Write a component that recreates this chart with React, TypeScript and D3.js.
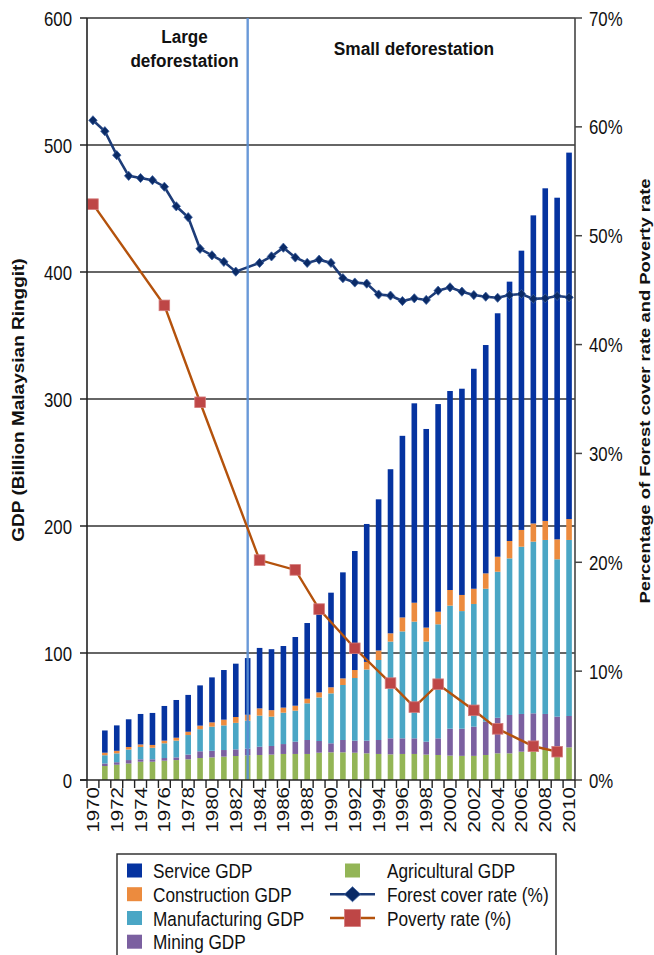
import React from 'react';
import * as d3 from 'd3';

const years = [1970,1971,1972,1973,1974,1975,1976,1977,1978,1979,1980,1981,1982,1983,1984,1985,1986,1987,1988,1989,1990,1991,1992,1993,1994,1995,1996,1997,1998,1999,2000,2001,2002,2003,2004,2005,2006,2007,2008,2009,2010];
const labelYears = [1970,1972,1974,1976,1978,1980,1982,1984,1986,1988,1990,1992,1994,1996,1998,2000,2002,2004,2006,2008,2010];

// GDP components (billion RM), 1970 has no bar
const agricultural = [null,11,12,13,14.4,14.4,15.2,15.7,16.3,17.3,17.8,18.4,18.9,19.4,19.7,20,20.5,20.5,20.5,21.5,21.8,21.8,21.5,21,20.5,20.2,20.5,20.5,20,19.7,19.2,19,19,19.7,21,21,22.3,23.6,23.6,23.6,25.7];
const mining = [null,2,2,2.7,1.9,1.9,2.1,2.1,3.7,5.3,5.2,5.2,5.2,5.3,6.5,6.8,7.8,9.7,11,9.2,7.1,9.7,9.5,10,11,12.6,12.3,12.3,10.2,13.1,21.2,21.4,23,26.3,28,30.2,29.7,28.9,28.4,26.3,24.7];
const manufacturing = [null,6.5,7,8.3,9.7,9.1,11.6,13.2,15.4,17.4,19,19.4,20.9,22,24.5,23.1,24.7,24.4,28.9,34.3,39.3,43.3,49.3,56,63,76.2,84.2,91.9,78.8,89.8,96.9,92.6,96.6,104.6,115,123.3,131.7,135.2,137,123.9,138.6];
const construction = [null,2,2,2,2,2.2,2.1,2.3,2.6,2.8,3.4,4.5,4.6,4.7,5.7,5.1,4,3.9,3.6,4,4.8,5.2,6.3,6,7.5,6.5,11,14.9,11,9.9,12.3,12.7,12,12.1,11.8,13.7,13.2,14.3,15,15.7,16.5];
const service = [null,17.5,20,21.8,24,25.2,27.3,29.7,29,31.7,35.4,39.1,42,44.6,47.6,48,48.5,54.1,59.6,62,74.5,83.5,93.7,108.6,119,129.2,143,157,156.4,163.5,156.7,162.4,173.2,179.8,191.7,204.2,219.9,242.6,261.9,269,288.5];

// Forest cover rate (%) 1970-2010 (1983 marker not shown)
const forestCover = [60.6,59.6,57.4,55.5,55.3,55.1,54.5,52.7,51.7,48.8,48.2,47.6,46.7,null,47.5,48.1,48.9,48.0,47.5,47.8,47.5,46.1,45.7,45.6,44.6,44.5,44.0,44.25,44.1,44.95,45.26,44.86,44.55,44.4,44.3,44.55,44.65,44.2,44.25,44.46,44.34];

// Poverty rate (%)
const povertyYears = [1970,1976,1979,1984,1987,1989,1992,1995,1997,1999,2002,2004,2007,2009];
const povertyRate = [52.9,43.6,34.7,20.2,19.3,15.7,12.1,8.9,6.7,8.8,6.4,4.7,3.1,2.6];

const leftTicks = [0,100,200,300,400,500,600];
const rightTicks = [0,10,20,30,40,50,60,70];

const seriesKeys = ['agri','mining','manuf','constr','service'];
const seriesColors: Record<string,string> = {
  agri: '#93B556', mining: '#7B60A0', manuf: '#4AA6C5', constr: '#EC8B3E', service: '#0533A0',
};

const FONT = '"Liberation Sans", Arial, sans-serif';

function HText(p: {x:number;y:number;size?:number;sx?:number;anchor?:string;weight?:string;children:any}) {
  const { x, y, size = 20, sx = 0.84, anchor = 'start', weight = 'normal', children } = p;
  return (
    <text transform={`translate(${x},${y}) scale(${sx},1)`} fontSize={size} textAnchor={anchor as any}
      fontWeight={weight} fontFamily={FONT} fill="#111">{children}</text>
  );
}
function VText(p: {x:number;y:number;size?:number;sy?:number;anchor?:string;weight?:string;children:any}) {
  const { x, y, size = 20, sy = 0.82, anchor = 'middle', weight = 'normal', children } = p;
  return (
    <text transform={`translate(${x},${y}) rotate(-90) scale(1,${sy})`} fontSize={size} textAnchor={anchor as any}
      fontWeight={weight} fontFamily={FONT} fill="#111">{children}</text>
  );
}

export default function App() {
  const L = 87, R = 575, T = 18, B = 780;
  const x = d3.scaleBand<number>().domain(years).range([L, R]).padding(0);
  const step = x.step();
  const cx = (yr: number) => (x(yr) as number) + step / 2;
  const yL = d3.scaleLinear().domain([0, 600]).range([B, T]);
  const yR = d3.scaleLinear().domain([0, 70]).range([B, T]);
  const barW = 5.6;

  const rows = years.map((yr, i) => ({
    year: yr,
    agri: agricultural[i] ?? 0,
    mining: mining[i] ?? 0,
    manuf: manufacturing[i] ?? 0,
    constr: construction[i] ?? 0,
    service: service[i] ?? 0,
  })).filter((r, i) => agricultural[i] != null);
  const stacked = d3.stack<any>().keys(seriesKeys)(rows);

  const forestPts = years.map((yr, i) => ({ yr, v: forestCover[i] })).filter(d => d.v != null) as {yr:number;v:number}[];
  const povPts = povertyYears.map((yr, i) => ({ yr, v: povertyRate[i] }));
  const lineGen = d3.line<{yr:number;v:number}>().x(d => cx(d.yr)).y(d => yR(d.v));

  const diamond = (s: number, h: number) => `M0,${-h} L${s},0 L0,${h} L${-s},0 Z`;
  const boundaries = years.map(yr => x(yr) as number).concat([R]);
  const divX = cx(1983);

  const legendRowY = [870.5, 894.2, 918, 941.7];

  return (
    <svg width={654} height={955} style={{ position: 'absolute', left: 0, top: 0, background: '#fff' }}>
      <rect x={0} y={0} width={654} height={955} fill="#fff" />
      {/* gridlines */}
      {leftTicks.filter(t => t > 0).map(t => (
        <line key={t} x1={L} x2={R} y1={yL(t)} y2={yL(t)} stroke="#333" strokeWidth={1.5} />
      ))}
      {/* bars */}
      {stacked.map(s => (
        <g key={s.key} fill={seriesColors[s.key]}>
          {s.map((d: any) => (
            <rect key={d.data.year} x={cx(d.data.year) - barW / 2} width={barW}
              y={yL(d[1])} height={Math.max(0, yL(d[0]) - yL(d[1]))} />
          ))}
        </g>
      ))}
      {/* forest cover line */}
      <path d={lineGen(forestPts) || ''} fill="none" stroke="#1D3C78" strokeWidth={2.6} />
      {forestPts.map(d => (
        <path key={d.yr} d={diamond(4.2, 4.6)} transform={`translate(${cx(d.yr)},${yR(d.v)})`}
          fill="#0A2A66" stroke="#3A5E9E" strokeWidth={0.8} />
      ))}
      {/* divider */}
      <line x1={divX} x2={divX} y1={T} y2={B} stroke="#5A8FD4" strokeWidth={2.4} opacity={0.9} />
      {/* poverty line */}
      <path d={lineGen(povPts) || ''} fill="none" stroke="#B4520C" strokeWidth={2.4} />
      {povPts.map(d => (
        <rect key={d.yr} x={cx(d.yr) - 5.3} y={yR(d.v) - 5.3} width={10.6} height={10.6}
          fill="#BE4646" stroke="#D47C7C" strokeWidth={0.8} />
      ))}
      {/* axes */}
      <line x1={L} x2={L} y1={T} y2={B} stroke="#222" strokeWidth={1.6} />
      <line x1={R} x2={R} y1={T} y2={B} stroke="#444" strokeWidth={1.6} />
      <line x1={80} x2={R} y1={B} y2={B} stroke="#222" strokeWidth={1.6} />
      {leftTicks.map(t => (
        <g key={t}>
          <line x1={80} x2={L} y1={yL(t)} y2={yL(t)} stroke="#222" strokeWidth={1.5} />
          <HText x={72} y={yL(t) + 8} anchor="end">{String(t)}</HText>
        </g>
      ))}
      {rightTicks.map(t => (
        <g key={t}>
          <line x1={R} x2={R + 7} y1={yR(t)} y2={yR(t)} stroke="#444" strokeWidth={1.5} />
          <HText x={589} y={yR(t) + 7.5}>{`${t}%`}</HText>
        </g>
      ))}
      {boundaries.map((bx, i) => (
        <line key={i} x1={bx} x2={bx} y1={B} y2={B + 8} stroke="#222" strokeWidth={1.4} />
      ))}
      {labelYears.map(yr => (
        <VText key={yr} x={cx(yr) + 6} y={787} anchor="end" size={20.5}>{String(yr)}</VText>
      ))}
      {/* axis titles */}
      <VText x={24} y={400} size={19} weight="bold">GDP (Billion Malaysian Ringgit)</VText>
      <VText x={650} y={391} size={18.4} weight="bold">Percentage of Forest cover rate and Poverty rate</VText>
      {/* annotations */}
      <HText x={184.5} y={43.3} size={19} sx={0.9} anchor="middle" weight="bold">Large</HText>
      <HText x={184.5} y={66.7} size={19} sx={0.9} anchor="middle" weight="bold">deforestation</HText>
      <HText x={414} y={55} size={19} sx={0.91} anchor="middle" weight="bold">Small deforestation</HText>
      {/* legend */}
      <rect x={117} y={854} width={439} height={120} fill="#fff" stroke="#333" strokeWidth={1.5} />
      {[
        { key: 'service', label: 'Service GDP' },
        { key: 'constr', label: 'Construction GDP' },
        { key: 'manuf', label: 'Manufacturing GDP' },
        { key: 'mining', label: 'Mining GDP' },
      ].map((e, i) => (
        <g key={e.key}>
          <rect x={127} y={legendRowY[i] - 7} width={15} height={14} fill={seriesColors[e.key]} />
          <HText x={153} y={legendRowY[i] + 7.5} size={20.5}>{e.label}</HText>
        </g>
      ))}
      <rect x={345} y={legendRowY[0] - 7} width={15} height={14} fill={seriesColors.agri} />
      <HText x={387} y={legendRowY[0] + 7.5} size={20.5}>Agricultural GDP</HText>
      <line x1={330} x2={375} y1={legendRowY[1]} y2={legendRowY[1]} stroke="#1D3C78" strokeWidth={2.6} />
      <path d={diamond(8, 7.5)} transform={`translate(352.5,${legendRowY[1]})`} fill="#0A2A66" stroke="#3A5E9E" strokeWidth={0.8} />
      <HText x={387} y={legendRowY[1] + 7.5} size={20.5}>Forest cover rate (%)</HText>
      <line x1={330} x2={375} y1={legendRowY[2]} y2={legendRowY[2]} stroke="#B4520C" strokeWidth={2.4} />
      <rect x={344.5} y={legendRowY[2] - 8.5} width={16} height={17} fill="#BE4646" stroke="#D47C7C" strokeWidth={0.8} />
      <HText x={387} y={legendRowY[2] + 7.5} size={20.5}>Poverty rate (%)</HText>
    </svg>
  );
}
